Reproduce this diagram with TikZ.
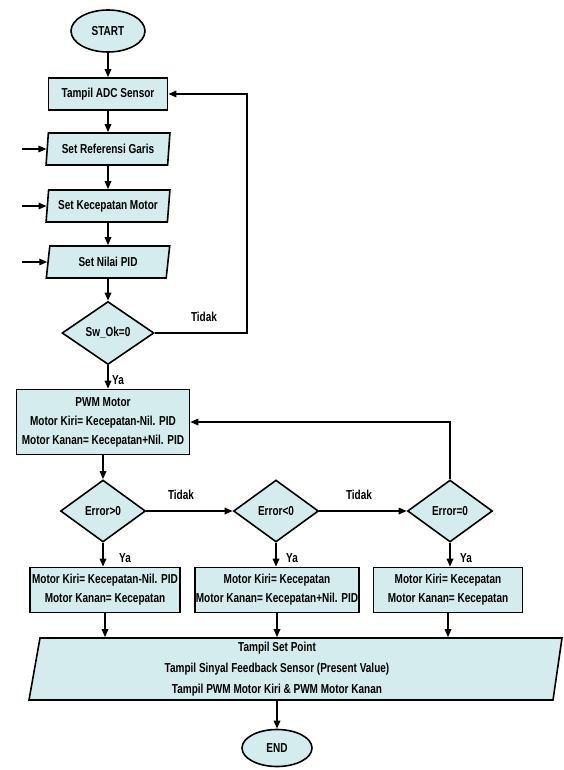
\documentclass[tikz,border=0pt]{standalone}
\usepackage{fontspec}
\setmainfont{Liberation Sans}[FakeStretch=0.77]
\usepackage{xcolor}
\usetikzlibrary{shapes.geometric,arrows.meta}
\definecolor{boxfill}{RGB}{212,236,238}

\begin{document}
\begin{tikzpicture}[x=1pt, y=-1pt, line width=1.6pt,
  font=\fontsize{13}{19}\selectfont\bfseries,
  terminal/.style={ellipse, draw, fill=boxfill, minimum width=74pt,
                   minimum height=42pt, inner sep=0pt},
  process/.style={rectangle, draw, fill=boxfill, align=center, inner sep=1pt},
  iobox/.style={trapezium, trapezium left angle=81, trapezium right angle=99,
                trapezium stretches=true, draw, fill=boxfill,
                minimum width=124pt, minimum height=32pt, inner sep=1pt},
  decision/.style={diamond, draw, fill=boxfill, inner sep=0pt},
  arr/.style={-{Triangle[length=8pt,width=6.5pt]}},
  lbl/.style={inner sep=1pt}]

  \useasboundingbox (0,0) rectangle (563,770);

  %% Initialisation column
  \node[terminal] (start) at (108,31) {START};
  \node[process, minimum width=119pt, minimum height=32pt] (adc) at (108,94) {Tampil ADC Sensor};
  \node[iobox] (ref) at (108,149) {Set Referensi Garis};
  \node[iobox] (kec) at (108,206) {Set Kecepatan Motor};
  \node[iobox] (pid) at (108,262) {Set Nilai PID};
  \node[decision, minimum width=92pt, minimum height=63pt] (sw) at (108,333) {Sw\_Ok=0};

  %% Free ends of the input arrows
  \coordinate (inref) at (22,149);
  \coordinate (inkec) at (22,206);
  \coordinate (inpid) at (22,262);
  \coordinate (loop) at (247,94);

  \draw[arr] (start) -- (adc);
  \draw[arr] (adc) -- (ref);
  \draw[arr] (ref) -- (kec);
  \draw[arr] (kec) -- (pid);
  \draw[arr] (pid) -- (sw);
  \draw[arr] (inref) -- (ref);
  \draw[arr] (inkec) -- (kec);
  \draw[arr] (inpid) -- (pid);
  \draw[arr] (sw.east) -| (loop) -- (adc.east);
  \node[lbl] (tsw) at (204,317) {Tidak};

  %% PWM and error checks
  \node[process, minimum width=173pt, minimum height=65pt] (pwm) at (103,422)
    {PWM Motor\\Motor Kiri= Kecepatan-Nil. PID\\Motor Kanan= Kecepatan+Nil. PID};
  \draw[arr] (sw.south) -- (sw.south |- pwm.north);
  \node[lbl] (ysw) at (118,380) {Ya};

  \node[decision, minimum width=85pt, minimum height=62pt] (e1) at (103,511) {Error>0};
  \node[decision, minimum width=85pt, minimum height=62pt] (e2) at (276,511) {Error<0};
  \node[decision, minimum width=85pt, minimum height=62pt] (e3) at (450,511) {Error=0};

  \draw[arr] (pwm) -- (e1);
  \draw[arr] (e1) -- (e2);
  \draw[arr] (e2) -- (e3);
  \draw[arr] (e3.north) |- (pwm.east);
  \node[lbl] (t1) at (181,495) {Tidak};
  \node[lbl] (t2) at (359,495) {Tidak};

  %% Motor assignments
  \node[process, minimum width=150pt, minimum height=45pt] (k1) at (105,590)
    {Motor Kiri= Kecepatan-Nil. PID\\Motor Kanan= Kecepatan};
  \node[process, minimum width=163pt, minimum height=45pt] (k2) at (277,590)
    {Motor Kiri= Kecepatan\\Motor Kanan= Kecepatan+Nil. PID};
  \node[process, minimum width=149pt, minimum height=45pt] (k3) at (448,590)
    {Motor Kiri= Kecepatan\\Motor Kanan= Kecepatan};

  \draw[arr] (e1.south) -- (e1.south |- k1.north);
  \draw[arr] (e2.south) -- (e2.south |- k2.north);
  \draw[arr] (e3.south) -- (e3.south |- k3.north);
  \node[lbl] (y1) at (125,558) {Ya};
  \node[lbl] (y2) at (292,558) {Ya};
  \node[lbl] (y3) at (466,558) {Ya};

  %% Output and end
  \draw[fill=boxfill] (40,638) -- (562,638) -- (553,700) -- (29,700) -- cycle;
  \node[align=center, minimum height=62pt, inner sep=0pt,
        font=\fontsize{13}{21}\selectfont\bfseries] (out) at (277,669)
    {Tampil Set Point\\Tampil Sinyal Feedback Sensor (Present Value)\\Tampil PWM Motor Kiri \& PWM Motor Kanan};
  \draw[arr] (k1.south) -- (k1.south |- out.north);
  \draw[arr] (k2.south) -- (k2.south |- out.north);
  \draw[arr] (k3.south) -- (k3.south |- out.north);

  \node[terminal, minimum width=70pt, minimum height=37pt] (end) at (277,748) {END};
  \draw[arr] (out) -- (end);

\end{tikzpicture}
\end{document}
